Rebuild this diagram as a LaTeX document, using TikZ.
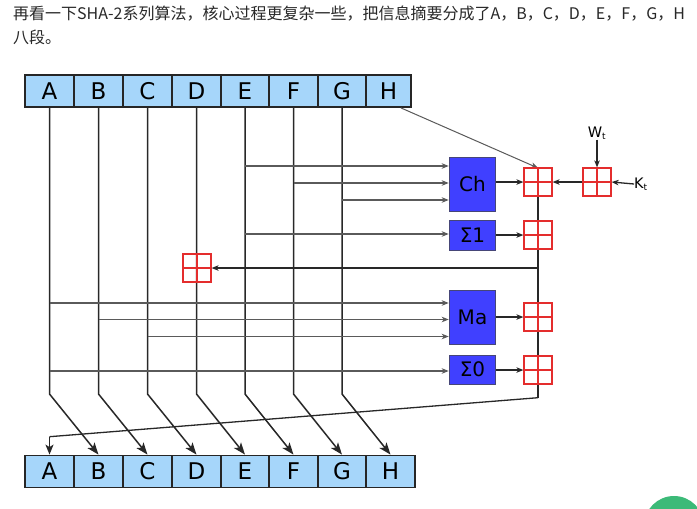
\documentclass[tikz,border=0pt]{standalone}
\usepackage{fontspec}
\setmainfont{DejaVu Sans}
\newfontfamily\cjk{Noto Sans CJK SC}
\usetikzlibrary{arrows.meta}

\definecolor{regfill}{RGB}{166,214,250}
\definecolor{boxfill}{RGB}{64,64,255}
\definecolor{boxdraw}{RGB}{70,70,120}
\definecolor{addred}{RGB}{228,45,45}
\definecolor{linegray}{RGB}{40,40,40}
\definecolor{ingray}{RGB}{90,90,90}
\definecolor{txtgray}{RGB}{40,40,40}
\definecolor{fabgreen}{RGB}{60,186,120}

\begin{document}
\begin{tikzpicture}[x=1pt,y=-1pt,
  reg/.style={draw=black!85, line width=1.8pt, fill=regfill, minimum height=32pt,
    inner sep=0pt, font=\fontsize{23}{23}\selectfont},
  fbox/.style={draw=boxdraw, line width=1pt, fill=boxfill, inner sep=0pt,
    font=\fontsize{20}{20}\selectfont, minimum width=46.5pt},
  adder/.style={draw=addred, line width=1.2pt, minimum size=28pt, inner sep=0pt,
    path picture={\draw[addred, line width=1.2pt]
      (path picture bounding box.north) -- (path picture bounding box.south)
      (path picture bounding box.west) -- (path picture bounding box.east);}},
  wire/.style={draw=linegray, line width=1.5pt},
  bigarrow/.style={wire, -{Stealth[length=12pt,width=9pt,inset=3pt]}},
  inwire/.style={draw=ingray, line width=1.3pt, -{Stealth[length=7pt,width=5.5pt,inset=2pt]}},
  thinwire/.style={draw=ingray, line width=1pt, -{Stealth[length=7pt,width=5.5pt,inset=2pt]}},
  lbl/.style={inner sep=0pt, font=\fontsize{14.5}{14.5}\selectfont}
]
\useasboundingbox (0,0) rectangle (697,509);
\fill[white] (0,0) rectangle (697,509);

% heading text
\node[anchor=base west, inner sep=0pt, text=txtgray, font=\cjk\fontsize{16}{16}\selectfont] (line1) at (13,19.5)
  {再看一下SHA-2系列算法，核心过程更复杂一些，把信息摘要分成了A，B，C，D，E，F，G，H};
\node[anchor=base west, inner sep=0pt, text=txtgray, font=\cjk\fontsize{16}{16}\selectfont] (line2) at (13,43)
  {八段。};

% registers
\foreach \l/\a/\b in {A/25/74, B/74/123, C/123/172, D/172/221, E/221/269, F/269/318, G/318/366, H/366/411}
  \node[reg, minimum width={\b-\a}] (t\l) at ({(\a+\b)/2},91) {\l};
\foreach \l/\a/\b in {A/25/74, B/74/123, C/123/172, D/172/221, E/221/269, F/269/318, G/318/366, H/366/415}
  \node[reg, minimum width={\b-\a}] (b\l) at ({(\a+\b)/2},471.5) {\l};

% function boxes
\node[fbox, minimum height=54pt] (Ch) at (472.5,184) {Ch};
\node[fbox, minimum height=30pt] (S1) at (472.5,235) {Σ1};
\node[fbox, minimum height=54pt] (Ma) at (472.5,317.5) {Ma};
\node[fbox, minimum height=29pt] (S0) at (472.5,369.5) {Σ0};

% adder positions
\coordinate (a1c) at (538,182);
\coordinate (a2c) at (538,235);
\coordinate (a3c) at (538,317);
\coordinate (a4c) at (538,370);
\coordinate (awc) at (597,182);
\coordinate (adc) at (197,268);

% bend points
\coordinate (mainbend) at (538,397.7);
\coordinate (abend) at (bA.north |- 0,436.7);

% vertical pass-through lines with diagonal shifts
\foreach \s/\d in {A/B, B/C, C/D, D/E, E/F, F/G, G/H}
  \draw[bigarrow] (t\s.south) -- (t\s.south |- 0,394) -- (b\d.north);

% H input to adder 1
\draw[thinwire] ([xshift=-11pt]tH.south east) -- (a1c |- 0,168);

% inputs to Ch
\draw[inwire] (tE.south |- 0,166) -- (Ch.west |- 0,166);
\draw[inwire] (tF.south |- 0,183) -- (Ch.west |- 0,183);
\draw[inwire] (tG.south |- 0,200) -- (Ch.west |- 0,200);
% input to Sigma1
\draw[inwire] (tE.south |- 0,234) -- (S1.west |- 0,234);
% inputs to Ma
\draw[inwire] (tA.south |- 0,303) -- (Ma.west |- 0,303);
\draw[inwire] (tB.south |- 0,319.5) -- (Ma.west |- 0,319.5);
\draw[inwire] (tC.south |- 0,336.5) -- (Ma.west |- 0,336.5);
% input to Sigma0
\draw[inwire] (tA.south |- 0,371) -- (S0.west |- 0,371);

% main sum line
\draw[wire] (a1c) -- (mainbend);
\draw[wire, line width=1.3pt] (mainbend) -- (abend);
\draw[wire, line width=1.3pt, -{Stealth[length=10pt,width=8pt,inset=2.5pt]}] (abend) -- (bA.north);

% adders
\node[adder] (a1) at (a1c) {};
\node[adder] (a2) at (a2c) {};
\node[adder] (a3) at (a3c) {};
\node[adder] (a4) at (a4c) {};
\node[adder] (aw) at (awc) {};
\node[adder] (ad) at (adc) {};

% outputs
\draw[inwire, draw=linegray] (Ch.east |- a1) -- (a1.west);
\draw[inwire, draw=linegray] (aw.west) -- (a1.east);
\draw[inwire, draw=linegray] (S1.east |- a2) -- (a2.west);
\draw[inwire, draw=linegray] (Ma.east |- a3) -- (a3.west);
\draw[inwire, draw=linegray] (S0.east |- a4) -- (a4.west);
\draw[inwire, draw=linegray] (a1 |- ad) -- (ad.east);

% W and K
\node[lbl] (W) at (597,133) {W\textsubscript{\fontsize{9}{9}\selectfont t}};
\node[lbl] (K) at (641,184) {K\textsubscript{\fontsize{9}{9}\selectfont t}};
\draw[inwire, draw=linegray] (W.south) -- (aw.north);
\draw[inwire, draw=linegray] (K.west) -- (aw.east);

% floating button
\begin{scope}
  \clip (0,0) rectangle (697,509);
  \fill[fabgreen] (674,526) circle (30);
\end{scope}
\end{tikzpicture}
\end{document}
